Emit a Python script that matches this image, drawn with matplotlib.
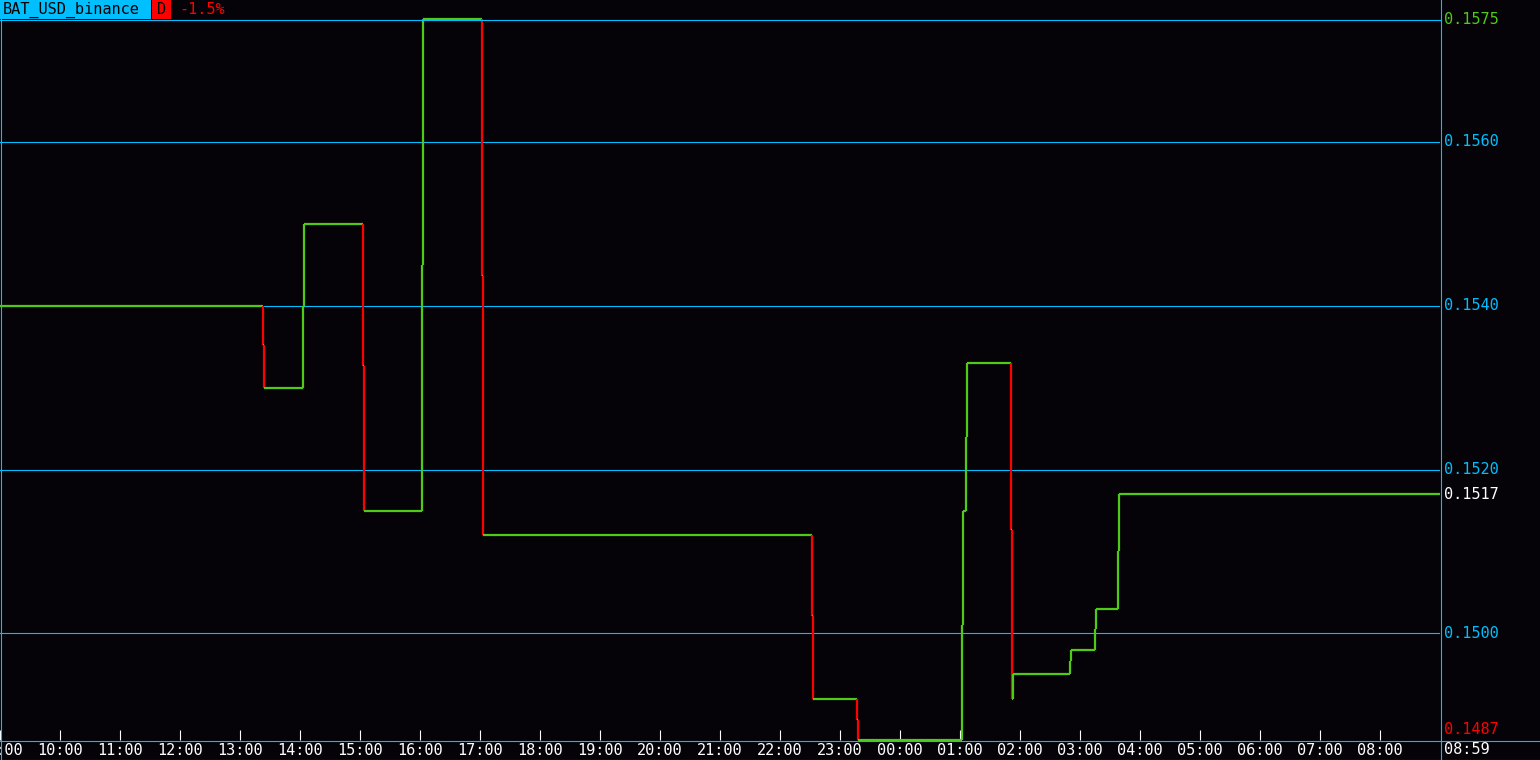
import matplotlib
matplotlib.use("Agg")
import matplotlib.pyplot as plt
from matplotlib.collections import LineCollection
from matplotlib.lines import Line2D
from matplotlib.patches import Rectangle

# ---------------- data ----------------
symbol = "BAT_USD_binance"
timeframe = "D"
change_pct = "-1.5%"
# change points: minutes since 09:00, price after the change
change_minutes = [0, 263, 264, 303, 304, 363, 364, 422, 423, 482, 483,
                  812, 813, 857, 858, 962, 963, 966, 967, 1011, 1012, 1013,
                  1070, 1071, 1095, 1096, 1118, 1119]
change_prices = [0.1540, 0.15352, 0.1530, 0.1540, 0.1550, 0.15326, 0.1515,
                 0.1545, 0.1575, 0.15436, 0.1512, 0.15021, 0.1492, 0.14895,
                 0.1487, 0.1501, 0.1515, 0.1524, 0.1533, 0.15126, 0.1492,
                 0.1495, 0.14966, 0.1498, 0.15005, 0.1503, 0.15101, 0.1517]
end_minute = 1439
grid_levels = [0.1500, 0.1520, 0.1540, 0.1560]
grid_labels = ["0.1500", "0.1520", "0.1540", "0.1560"]
high_value, high_label = 0.1575, "0.1575"
last_value, last_label = 0.1517, "0.1517"
low_value, low_label = 0.1487, "0.1487"
tick_minutes = list(range(0, 1440, 60))
tick_labels = ["09:00", "10:00", "11:00", "12:00", "13:00", "14:00", "15:00",
               "16:00", "17:00", "18:00", "19:00", "20:00", "21:00", "22:00",
               "23:00", "00:00", "01:00", "02:00", "03:00", "04:00", "05:00",
               "06:00", "07:00", "08:00"]
last_time_label = "08:59"

# ---------------- style ----------------
BG = "#050308"
CYAN = "#00BFFF"
GREEN = "#4FCB17"
RED = "#FF0000"
FONT = "DejaVu Sans Mono"
FS = 11

W, H = 1540, 760
fig = plt.figure(figsize=(W / 100, H / 100), dpi=100, facecolor=BG)

def fx(px):
    return px / W

def fy(py):
    return 1 - py / H

plot_right = 1440
plot_top = 19
plot_bottom = 740
ax = fig.add_axes([0, fy(plot_bottom), fx(plot_right), (plot_bottom - plot_top) / H])
ax.set_facecolor(BG)
ax.set_xlim(0, 1440)
ax.set_ylim(low_value, high_value)
for s in ax.spines.values():
    s.set_visible(False)

# grid
for g in grid_levels:
    ax.axhline(g, color=CYAN, lw=0.8, zorder=1)

# price step line
segs, cols = [], []
for i in range(1, len(change_minutes)):
    t0, p0 = change_minutes[i - 1], change_prices[i - 1]
    t1, p1 = change_minutes[i], change_prices[i]
    segs.append([(t0, p0), (t1, p0)])
    cols.append(GREEN)
    segs.append([(t1, p0), (t1, p1)])
    cols.append(GREEN if p1 >= p0 else RED)
segs.append([(change_minutes[-1], change_prices[-1]), (end_minute + 1, change_prices[-1])])
cols.append(GREEN)
lc = LineCollection(segs, colors=cols, linewidths=1.6, zorder=5,
                    capstyle="butt", joinstyle="miter")
lc.set_clip_on(False)
ax.add_collection(lc)

# x ticks
ax.set_xticks(tick_minutes)
ax.set_xticklabels(tick_labels, fontfamily=FONT, fontsize=FS, color="white")
ax.tick_params(axis="x", direction="in", length=7.2, width=0.8, color="white",
               pad=2.5)
ax.set_yticks([])
for lab in ax.get_xticklabels():
    lab.set_clip_on(False)

# right labels
ytr = ax.get_yaxis_transform()
lx = 1444 / 1440
for g, l in zip(grid_levels, grid_labels):
    ax.text(lx, g, l, transform=ytr, color=CYAN, fontfamily=FONT, fontsize=FS,
            va="center", ha="left", clip_on=False)
ax.text(lx, high_value, high_label, transform=ytr, color=GREEN, fontfamily=FONT,
        fontsize=FS, va="center", ha="left", clip_on=False)
ax.text(lx, last_value, last_label, transform=ytr, color="white", fontfamily=FONT,
        fontsize=FS, va="center", ha="left", clip_on=False)
fig.text(fx(1444), fy(729), low_label, color=RED, fontfamily=FONT, fontsize=FS,
         va="center", ha="left")
fig.text(fx(1444), fy(750), last_time_label, color="white", fontfamily=FONT,
         fontsize=FS, va="center", ha="left")

# borders
def hline(y, x0, x1):
    fig.add_artist(Line2D([fx(x0), fx(x1)], [fy(y), fy(y)], color=CYAN, lw=0.8,
                          zorder=1))

def vline(x, y0, y1):
    fig.add_artist(Line2D([fx(x), fx(x)], [fy(y0), fy(y1)], color=CYAN, lw=0.8,
                          zorder=1))

hline(19.5, 0, 1440.5)
hline(740.5, 0, 1540)
hline(759.5, 0, 1540)
vline(0.5, 19, 760)
vline(1440.5, 0, 760)

# header
fig.add_artist(Rectangle((fx(0), fy(19)), fx(151), 19 / H, transform=fig.transFigure,
                         facecolor=CYAN, edgecolor="none"))
fig.text(fx(3), fy(10), symbol, color="black", fontfamily=FONT, fontsize=FS,
         va="center", ha="left")
fig.add_artist(Rectangle((fx(152), fy(19)), fx(19), 19 / H, transform=fig.transFigure,
                         facecolor=RED, edgecolor="none"))
fig.text(fx(161.5), fy(10), timeframe, color="black", fontfamily=FONT, fontsize=FS,
         va="center", ha="center")
fig.text(fx(179), fy(10), change_pct, color=RED, fontfamily=FONT, fontsize=FS,
         va="center", ha="left")

fig.savefig("out.png", dpi=100, facecolor=BG)
